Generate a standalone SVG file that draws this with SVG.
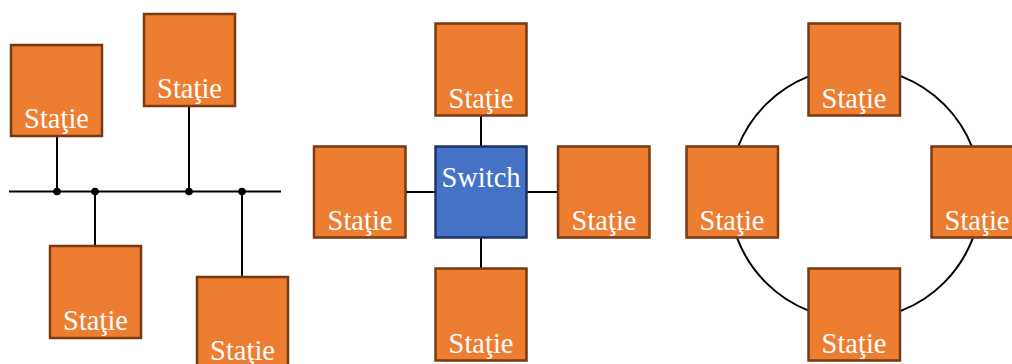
<svg xmlns="http://www.w3.org/2000/svg" width="1012" height="364" viewBox="0 0 1012 364">
  <style>
    .station rect { fill: #ED7D31; stroke: #7A3A10; stroke-width: 2.5; }
    .switch rect { fill: #4472C4; stroke: #1F3460; stroke-width: 2.5; }
    text { font-family: "Liberation Serif", "Times New Roman", serif; font-size: 28.5px; fill: #FFFFFF; text-anchor: middle; }
    .wire { stroke: #000000; stroke-width: 2; fill: none; }
    .tap { fill: #000000; }
  </style>
  <rect width="1012" height="364" fill="#FFFFFF"/>

  <!-- Connectors -->
  <g id="connectors">
    <!-- bus topology -->
    <line class="wire" x1="9" y1="191.5" x2="281" y2="191.5"/>
    <line class="wire" x1="57" y1="136" x2="57" y2="191.5"/>
    <line class="wire" x1="95" y1="191.5" x2="95" y2="246"/>
    <line class="wire" x1="189" y1="106" x2="189" y2="191.5"/>
    <line class="wire" x1="242" y1="191.5" x2="242" y2="277"/>
    <circle class="tap" cx="57" cy="191.5" r="3.8"/>
    <circle class="tap" cx="95" cy="191.5" r="3.8"/>
    <circle class="tap" cx="189" cy="191.5" r="3.8"/>
    <circle class="tap" cx="242" cy="191.5" r="3.8"/>
    <!-- star topology -->
    <line class="wire" x1="481" y1="116" x2="481" y2="146"/>
    <line class="wire" x1="481" y1="238" x2="481" y2="268"/>
    <line class="wire" x1="406" y1="192" x2="435" y2="192"/>
    <line class="wire" x1="527" y1="192" x2="558" y2="192"/>
    <!-- ring topology -->
    <circle class="wire" cx="855" cy="193.5" r="126"/>
  </g>

  <!-- Bus stations -->
  <g id="bus-station-1" class="station">
    <rect x="11" y="45" width="91" height="91"/>
    <text x="56.5" y="128">Staţie</text>
  </g>
  <g id="bus-station-2" class="station">
    <rect x="144" y="14" width="91" height="92"/>
    <text x="189.5" y="98">Staţie</text>
  </g>
  <g id="bus-station-3" class="station">
    <rect x="50" y="246" width="91" height="92"/>
    <text x="95.5" y="330">Staţie</text>
  </g>
  <g id="bus-station-4" class="station">
    <rect x="197" y="277" width="91" height="92"/>
    <text x="242.5" y="360">Staţie</text>
  </g>

  <!-- Star -->
  <g id="star-switch" class="switch">
    <rect x="435.5" y="146.5" width="91" height="91"/>
    <text x="481" y="187">Switch</text>
  </g>
  <g id="star-station-top" class="station">
    <rect x="435.5" y="23.5" width="91" height="92"/>
    <text x="481" y="107.5">Staţie</text>
  </g>
  <g id="star-station-left" class="station">
    <rect x="314" y="146.5" width="91.5" height="91"/>
    <text x="360" y="230">Staţie</text>
  </g>
  <g id="star-station-right" class="station">
    <rect x="558" y="146.5" width="91.5" height="91"/>
    <text x="604" y="230">Staţie</text>
  </g>
  <g id="star-station-bottom" class="station">
    <rect x="435.5" y="268.5" width="91" height="92"/>
    <text x="481" y="353">Staţie</text>
  </g>

  <!-- Ring -->
  <g id="ring-station-top" class="station">
    <rect x="808.5" y="23.5" width="91.5" height="92"/>
    <text x="854" y="107.5">Staţie</text>
  </g>
  <g id="ring-station-left" class="station">
    <rect x="686.5" y="146.5" width="91.5" height="91"/>
    <text x="732" y="230">Staţie</text>
  </g>
  <g id="ring-station-right" class="station">
    <rect x="931.5" y="146.5" width="91.5" height="91"/>
    <text x="977" y="230">Staţie</text>
  </g>
  <g id="ring-station-bottom" class="station">
    <rect x="808.5" y="268.5" width="91.5" height="92"/>
    <text x="854" y="353">Staţie</text>
  </g>
</svg>
